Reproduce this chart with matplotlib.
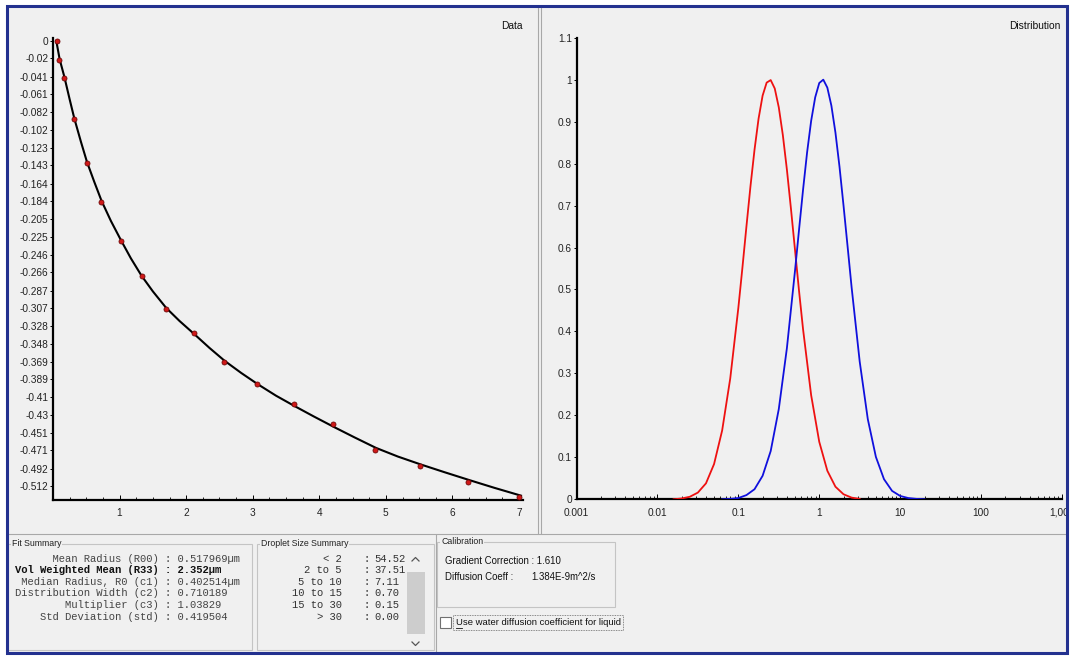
import numpy as np
import matplotlib
matplotlib.use("Agg")
import matplotlib.pyplot as plt
from matplotlib.patches import Rectangle
from matplotlib.transforms import Bbox

# left panel: measured points and fitted curve
data_x = [0.056, 0.095, 0.165, 0.315, 0.506, 0.725, 1.017, 1.332, 1.697, 2.117,
          2.572, 3.068, 3.619, 4.209, 4.835, 5.511, 6.236, 7.0]
data_y = [0.000, -0.022, -0.042, -0.090, -0.140, -0.185, -0.230, -0.270, -0.308, -0.336,
          -0.369, -0.395, -0.417, -0.440, -0.471, -0.489, -0.507, -0.524]
fit_x = [0.05, 0.10, 0.17, 0.25, 0.32, 0.42, 0.51, 0.62, 0.73, 0.87, 1.02, 1.17, 1.33,
         1.50, 1.70, 1.90, 2.12, 2.35, 2.58, 2.83, 3.08, 3.35, 3.63, 3.92, 4.22, 4.53,
         4.85, 5.18, 5.52, 5.88, 6.25, 6.63, 7.03]
fit_y = [0.000, -0.021, -0.041, -0.067, -0.089, -0.116, -0.139, -0.162, -0.184, -0.207,
         -0.229, -0.250, -0.270, -0.288, -0.307, -0.322, -0.337, -0.353, -0.368, -0.382,
         -0.395, -0.408, -0.420, -0.432, -0.444, -0.456, -0.468, -0.478, -0.487, -0.496,
         -0.505, -0.514, -0.523]
data_xticks = [1, 2, 3, 4, 5, 6, 7]
data_yticklabels = ["0", "-0.02", "-0.041", "-0.061", "-0.082", "-0.102", "-0.123",
                    "-0.143", "-0.164", "-0.184", "-0.205", "-0.225", "-0.246", "-0.266",
                    "-0.287", "-0.307", "-0.328", "-0.348", "-0.369", "-0.389", "-0.41",
                    "-0.43", "-0.451", "-0.471", "-0.492", "-0.512"]

# right panel: number (red) and volume (blue) distributions vs log10 radius
number_log_r = [-1.8, -1.7, -1.6, -1.5, -1.4, -1.3, -1.2, -1.1, -1.0, -0.95, -0.9, -0.85,
                -0.8, -0.75, -0.7, -0.65, -0.6, -0.55, -0.5, -0.45, -0.4, -0.35, -0.3,
                -0.25, -0.2, -0.1, 0.0, 0.1, 0.2, 0.3, 0.4, 0.5]
number_dist = [0.000, 0.002, 0.006, 0.016, 0.038, 0.084, 0.164, 0.288, 0.456, 0.551,
               0.650, 0.746, 0.833, 0.907, 0.962, 0.993, 0.999, 0.979, 0.934, 0.868,
               0.786, 0.693, 0.595, 0.497, 0.405, 0.248, 0.137, 0.068, 0.030, 0.012,
               0.004, 0.001]
volume_log_r = [-1.2, -1.1, -1.0, -0.9, -0.8, -0.7, -0.6, -0.5, -0.4, -0.3, -0.25, -0.2,
                -0.15, -0.1, -0.05, 0.0, 0.05, 0.1, 0.15, 0.2, 0.25, 0.3, 0.35, 0.4, 0.5,
                0.6, 0.7, 0.8, 0.9, 1.0, 1.1, 1.2, 1.3]
volume_dist = [0.000, 0.001, 0.003, 0.010, 0.024, 0.056, 0.115, 0.215, 0.360, 0.544,
               0.642, 0.738, 0.827, 0.902, 0.958, 0.992, 1.000, 0.981, 0.938, 0.874,
               0.793, 0.700, 0.603, 0.505, 0.328, 0.191, 0.101, 0.048, 0.020, 0.008,
               0.003, 0.001, 0.000]
dist_xticks = [0.001, 0.01, 0.1, 1, 10, 100, 1000]
dist_xticklabels = ["0.001", "0.01", "0.1", "1", "10", "100", "1,000"]
dist_yticklabels = ["0", "0.1", "0.2", "0.3", "0.4", "0.5", "0.6", "0.7", "0.8", "0.9",
                    "1", "1.1"]

# bottom summaries
fit_labels = ["Mean Radius (R00)", "Vol Weighted Mean (R33)", "Median Radius, R0 (c1)",
              "Distribution Width (c2)", "Multiplier (c3)", "Std Deviation (std)"]
fit_values = ["0.517969µm", "2.352µm", "0.402514µm", "0.710189", "1.03829", "0.419504"]
size_ranges = ["< 2", "2 to 5", "5 to 10", "10 to 15", "15 to 30", "> 30"]
size_percent = ["54.52", "37.51", "7.11", "0.70", "0.15", "0.00"]
gradient_correction = "1.610"
diffusion_coeff = "1.384E-9m^2/s"

W, H = 1075, 656
BG = "#f0f0f0"
LINE = "#c4c4c4"
plt.rcParams["font.family"] = ["Liberation Sans", "DejaVu Sans"]


def box(x0, y0, x1, y1):
    return [x0 / W, 1 - y1 / H, (x1 - x0) / W, (y1 - y0) / H]


fig = plt.figure(figsize=(W / 100, H / 100), dpi=100, facecolor="white")
ui = fig.add_axes([0, 0, 1, 1], zorder=0)
ui.set_xlim(0, W)
ui.set_ylim(H, 0)
ui.axis("off")

ui.add_patch(Rectangle((7, 6), 1060, 647, facecolor=BG, edgecolor="none"))
ui.add_patch(Rectangle((7, 6), 1060, 647, fill=False, edgecolor="#23318f", lw=2.2, zorder=10))

# panel separators
ui.plot([537.5, 537.5], [8, 533], color="#a8a8a8", lw=0.8)
ui.plot([540.5, 540.5], [8, 533], color="#a8a8a8", lw=0.8)
ui.plot([8, 1066], [533.5, 533.5], color="#a8a8a8", lw=0.8)
ui.plot([435.5, 435.5], [535, 651], color="#a8a8a8", lw=0.8)

ui.text(523, 26, "Data", ha="right", va="center", fontsize=7.4, color="#111111")
ui.text(1060, 26, "Distribution", ha="right", va="center", fontsize=7.4, color="#111111")


def group(x0, y0, x1, y1, title):
    ui.add_patch(Rectangle((x0, y0), x1 - x0, y1 - y0, fill=False, edgecolor=LINE, lw=0.8))
    ui.text(x0 + 4, y0, title, ha="left", va="center", fontsize=6.3, color="#222222",
            bbox=dict(facecolor=BG, edgecolor="none", pad=0.6))


group(8, 544, 252, 650, "Fit Summary")
group(257, 544, 434, 650, "Droplet Size Summary")
group(437, 542, 615, 607, "Calibration")

mono = "Liberation Mono"
for i, (lab, val) in enumerate(zip(fit_labels, fit_values)):
    bold = i == 1
    ui.text(15, 558.5 + 11.6 * i, f"{lab:>23} : {val}", family=mono, fontsize=7.6,
            va="center", ha="left", color="#111111" if bold else "#444444",
            weight="bold" if bold else "normal")

for i, (rng, pct) in enumerate(zip(size_ranges, size_percent)):
    y = 558.5 + 11.6 * i
    ui.text(342, y, rng, family=mono, fontsize=7.6, va="center", ha="right", color="#333333")
    ui.text(363, y, ":", family=mono, fontsize=7.6, va="center", ha="left", color="#333333")
    ui.text(374, y, pct, family=mono, fontsize=7.6, va="center", ha="left", color="#333333")

# scrollbar in droplet box
ui.add_patch(Rectangle((407, 572), 18, 62, facecolor="#cdcdcd", edgecolor="none"))
ui.plot([412, 415.5, 419], [561, 557.5, 561], color="#555555", lw=0.9)
ui.plot([412, 415.5, 419], [642, 645.5, 642], color="#555555", lw=0.9)

ui.text(445, 561.5, f"Gradient Correction : {gradient_correction}", fontsize=6.9,
        va="center", ha="left", color="#111111")
ui.text(445, 576.5, "Diffusion Coeff :", fontsize=6.9, va="center", ha="left", color="#111111")
ui.text(531, 576.5, diffusion_coeff, fontsize=6.9, va="center", ha="left", color="#111111")

ui.add_patch(Rectangle((440, 617), 11, 11, facecolor="white", edgecolor="#707070", lw=0.8))
ui.text(455.5, 622.5, "Use water diffusion coefficient for liquid", fontsize=6.8,
        va="center", ha="left", color="#111111")
ui.plot([455.5, 461.5], [627.5, 627.5], color="#111111", lw=0.6)
ui.add_patch(Rectangle((453, 615), 170, 15, fill=False, edgecolor="#666666", lw=0.6, ls=(0, (1, 1))))

# data panel
ax = fig.add_axes(box(53, 38, 523, 500), facecolor="none", zorder=2)
ax.plot(fit_x, fit_y, color="black", lw=1.5, zorder=2)
ax.plot(data_x, data_y, "o", ms=3.6, mfc="#d01818", mec="#700a0a", mew=0.6,
        zorder=3, clip_on=False)
ax.set_xlim(0, 7.06)
ax.set_ylim(-0.528, 0.0035)
ax.set_xticks(data_xticks)
ax.set_xticks(np.arange(0.25, 7.01, 0.25), minor=True)
ax.set_yticks([float(t) for t in data_yticklabels])
ax.set_yticklabels(data_yticklabels)

# distribution panel
ax2 = fig.add_axes(box(576.5, 37.7, 1062, 499.3), facecolor="none", zorder=2)
ax2.plot(10 ** np.array(number_log_r), number_dist, color="#ee1111", lw=1.3, zorder=3)
ax2.plot(10 ** np.array(volume_log_r), volume_dist, color="#1010dd", lw=1.3, zorder=3)
ax2.set_xscale("log")
ax2.set_xlim(1e-3, 1e3)
ax2.set_ylim(0, 1.1)
ax2.set_xticks(dist_xticks)
ax2.set_xticklabels(dist_xticklabels)
ax2.set_yticks([float(t) for t in dist_yticklabels])
ax2.set_yticklabels(dist_yticklabels)

for a in (ax, ax2):
    for side in ("top", "right"):
        a.spines[side].set_visible(False)
    for side in ("left", "bottom"):
        a.spines[side].set_linewidth(1.6)
        a.spines[side].set_color("black")
    a.tick_params(axis="y", direction="out", length=2.5, width=0.7, pad=0.8,
                  labelsize=7.3, labelcolor="#222222")
    a.tick_params(axis="x", which="major", direction="in", length=3.5, width=0.7,
                  pad=6, labelsize=7.3, labelcolor="#222222")
    a.tick_params(axis="x", which="minor", direction="in", length=2.2, width=0.6)

# the last distribution label is cut by the window border
fig.canvas.draw()
ax2.get_xticklabels()[-1].set_clip_box(Bbox.from_extents(0, 0, 1066, H))
ax2.get_xticklabels()[-1].set_clip_on(True)

fig.savefig("out.png", dpi=100, facecolor="white")
